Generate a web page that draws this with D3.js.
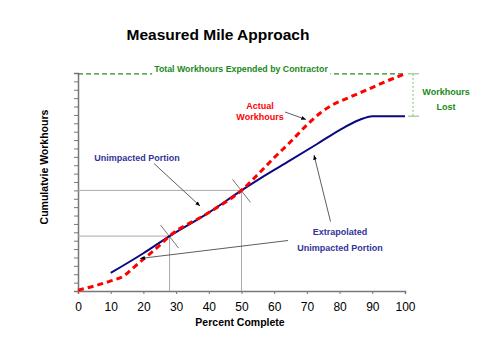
<!DOCTYPE html>
<html><head><meta charset="utf-8">
<script src="https://cdn.jsdelivr.net/npm/d3@7"></script>
<style>body{margin:0;background:#fff}svg{display:block}text{font-family:"Liberation Sans",Arial,sans-serif}</style>
</head><body>
<script>
const xTicks = [0,10,20,30,40,50,60,70,80,90,100];
const yMinorTicks = d3.range(0, 27, 1);
const unimpactedX = [10, 20, 28, 40, 50, 56, 65, 73, 80, 86, 90, 100];
const unimpactedY = [2.15, 4.5, 6.55, 9.35, 12.0, 13.5, 15.6, 17.5, 19.2, 20.4, 20.85, 20.85];
const actualX = [0, 5, 10, 14, 17, 20, 24, 28, 40, 50, 55, 60, 65, 70, 74, 77, 83, 89, 93, 100];
const actualY = [0.1, 0.6, 1.2, 1.8, 2.8, 3.8, 5.1, 6.55, 9.35, 12.0, 13.9, 15.9, 17.8, 19.8, 21.2, 22.0, 23.1, 24.1, 24.8, 25.9];
const totalExpended = 25.9;
const mileStart = 28, mileEnd = 50;

const W = 480, H = 359;
const svg = d3.select("body").append("svg").attr("width", W).attr("height", H);
const x = d3.scaleLinear().domain([0,100]).range([78,405]);
const y = d3.scaleLinear().domain([0,26]).range([291,73]);

svg.append("defs").append("marker").attr("id","arr").attr("viewBox","0 0 10 10")
  .attr("refX",10).attr("refY",5).attr("markerWidth",6).attr("markerHeight",6)
  .attr("orient","auto").append("path").attr("d","M0,1L10,5L0,9Z").attr("fill","#000");

// title
svg.append("text").attr("x",218).attr("y",40).attr("text-anchor","middle")
  .attr("font-size",15.5).attr("font-weight","bold").text("Measured Mile Approach");

// axes
const xAxis = svg.append("g").attr("transform",`translate(0,${y(0)})`)
  .call(d3.axisBottom(x).tickValues(xTicks).tickSize(3).tickPadding(8));
xAxis.selectAll("text").attr("font-size",12).attr("fill","#000").style("font-family","Liberation Sans, Arial");
xAxis.select(".domain").attr("stroke","#777").attr("stroke-width",1.5);
xAxis.selectAll(".tick line").attr("stroke","#777");
const yAxis = svg.append("g").attr("transform",`translate(${x(0)},0)`)
  .call(d3.axisLeft(y).tickValues(yMinorTicks).tickSize(4).tickFormat(""));
yAxis.select(".domain").attr("stroke","#777").attr("stroke-width",1.5);
yAxis.selectAll(".tick line").attr("stroke","#777");

svg.append("text").attr("x",240).attr("y",326).attr("text-anchor","middle")
  .attr("font-size",10.5).attr("font-weight","bold").text("Percent Complete");
svg.append("text").attr("transform","translate(48,167) rotate(-90)").attr("text-anchor","middle")
  .attr("font-size",10.5).attr("font-weight","bold").text("Cumulatvie Workhours");

// measured mile reference lines
const uAt = v => y(d3.zip(unimpactedX, unimpactedY).find(d => d[0] === v)[1]);
[mileStart, mileEnd].forEach(v => {
  svg.append("line").attr("x1",x(0)).attr("x2",x(v)).attr("y1",uAt(v)).attr("y2",uAt(v)).attr("stroke","#aaa");
  svg.append("line").attr("x1",x(v)).attr("x2",x(v)).attr("y1",uAt(v)).attr("y2",y(0)).attr("stroke","#aaa");
  svg.append("line").attr("x1",x(v)-9).attr("x2",x(v)+9).attr("y1",uAt(v)-11).attr("y2",uAt(v)+12).attr("stroke","#777");
});

// total expended line
svg.append("line").attr("x1",x(0)).attr("x2",x(100)).attr("y1",y(totalExpended)).attr("y2",y(totalExpended))
  .attr("stroke","#2a8a2a").attr("stroke-width",1.3).attr("stroke-dasharray","5,3");
const tt = svg.append("text").attr("x",241).attr("y",72).attr("text-anchor","middle")
  .attr("font-size",8.8).attr("font-weight","bold").attr("fill","#1a8a1a").text("Total Workhours Expended by Contractor");
const bb = tt.node().getBBox();
svg.insert("rect", () => tt.node()).attr("x",bb.x-2).attr("y",bb.y).attr("width",bb.width+4).attr("height",bb.height+2).attr("fill","#fff");

// workhours lost bracket
const bx = 413;
svg.append("line").attr("x1",bx).attr("x2",bx).attr("y1",y(totalExpended)).attr("y2",y(20.85)).attr("stroke","#7cbf7c").attr("stroke-dasharray","2,2");
[totalExpended, 20.85].forEach(v => svg.append("line").attr("x1",bx-5).attr("x2",bx+6).attr("y1",y(v)).attr("y2",y(v)).attr("stroke","#7cbf7c"));
svg.append("text").attr("x",446).attr("y",95).attr("text-anchor","middle").attr("font-size",9).attr("font-weight","bold").attr("fill","#1a8a1a").text("Workhours");
svg.append("text").attr("x",446).attr("y",110).attr("text-anchor","middle").attr("font-size",9).attr("font-weight","bold").attr("fill","#1a8a1a").text("Lost");

// curves
const line = d3.line().x(d=>x(d[0])).y(d=>y(d[1])).curve(d3.curveMonotoneX);
svg.append("path").attr("d",line(d3.zip(unimpactedX, unimpactedY))).attr("fill","none").attr("stroke","#0a0a80").attr("stroke-width",2);
svg.append("path").attr("d",line(d3.zip(actualX, actualY))).attr("fill","none").attr("stroke","#ff0000").attr("stroke-width",3).attr("stroke-dasharray","6,4");

// annotations
const ann = (x1,y1,x2,y2) => svg.append("line").attr("x1",x1).attr("y1",y1).attr("x2",x2).attr("y2",y2).attr("stroke","#333").attr("stroke-width",0.8).attr("marker-end","url(#arr)");
svg.append("text").attr("x",260).attr("y",109).attr("text-anchor","middle").attr("font-size",9).attr("font-weight","bold").attr("fill","#ff0000").text("Actual");
svg.append("text").attr("x",260).attr("y",120).attr("text-anchor","middle").attr("font-size",9).attr("font-weight","bold").attr("fill","#ff0000").text("Workhours");
ann(285,112,306,119.5);
svg.append("text").attr("x",137).attr("y",161).attr("text-anchor","middle").attr("font-size",9).attr("font-weight","bold").attr("fill","#333399").text("Unimpacted Portion");
ann(154,163.5,200,206);
svg.append("text").attr("x",340).attr("y",234.5).attr("text-anchor","middle").attr("font-size",9).attr("font-weight","bold").attr("fill","#333399").text("Extrapolated");
svg.append("text").attr("x",340).attr("y",251).attr("text-anchor","middle").attr("font-size",9).attr("font-weight","bold").attr("fill","#333399").text("Unimpacted Portion");
ann(330.5,221.5,314,155);
ann(288,240.5,140,258.5);
</script>
</body></html>
